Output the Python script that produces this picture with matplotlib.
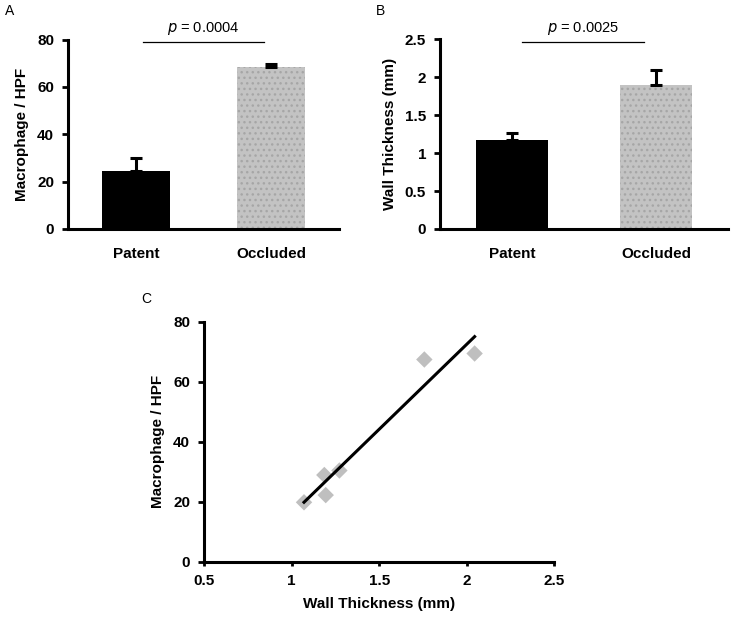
import numpy as np
import matplotlib
matplotlib.use("Agg")
import matplotlib.pyplot as plt

plt.rcParams['font.family'] = ['Liberation Sans', 'DejaVu Sans']

groups = ["Patent", "Occluded"]
macro_mean = [24.5, 68.3]
macro_err = [5.5, 1.4]
wall_mean = [1.17, 1.90]
wall_err = [0.09, 0.20]
p_macro = "0.0004"
p_wall = "0.0025"

scatter_wall = [1.071, 1.187, 1.195, 1.273, 1.758, 2.045]
scatter_macro = [19.8, 28.9, 22.2, 30.4, 67.4, 69.4]

W, H = 733, 617
fig = plt.figure(figsize=(W / 100, H / 100), dpi=100)

def ax_px(l, r, t, b):
    return fig.add_axes([l / W, 1 - b / H, (r - l) / W, (b - t) / H])

bar_colors = ["black", "#c3c3c3"]

def style_axes(ax, xticks=True):
    for s in ["top", "right"]:
        ax.spines[s].set_visible(False)
    for s in ["left", "bottom"]:
        ax.spines[s].set_linewidth(2.2)
    ax.tick_params(axis='y', direction='out', length=4, width=2, pad=6, labelsize=11)
    if xticks:
        ax.tick_params(axis='x', direction='out', length=4, width=2, pad=6, labelsize=11)
    for lab in ax.get_xticklabels() + ax.get_yticklabels():
        lab.set_fontweight('bold')

def bar_panel(ax, means, errs, ylim, yticks, yticklabels, ylabel, pval, sig_x, sig_y, txt_y):
    x = np.arange(len(groups))
    for i in range(len(groups)):
        if i == 0:
            ax.bar(x[i], means[i], width=0.5, color=bar_colors[i], edgecolor='black', linewidth=0, zorder=2)
        else:
            ax.bar(x[i], means[i], width=0.5, color=bar_colors[i], edgecolor='#a6a6a6', hatch='...', linewidth=0, zorder=2)
        ax.errorbar(x[i], means[i], yerr=[[0], [errs[i]]], fmt='none', ecolor='black', elinewidth=2.2, capsize=4, capthick=2.2, zorder=3)
    ax.set_xlim(-0.5, 1.5)
    ax.set_ylim(*ylim)
    ax.set_yticks(yticks)
    ax.set_yticklabels(yticklabels)
    ax.set_xticks(x)
    ax.set_xticklabels(groups)
    style_axes(ax, xticks=False)
    ax.tick_params(axis='x', length=0, pad=13, labelsize=11)
    for lab in ax.get_xticklabels():
        lab.set_fontweight('bold')
    ax.set_ylabel(ylabel, fontsize=11, fontweight='bold', labelpad=6)
    ax.plot(sig_x, [sig_y, sig_y], color='black', linewidth=0.9, clip_on=False)
    ax.text(np.mean(sig_x), txt_y, r"$p$ = " + pval, ha='center', va='center', fontsize=10.5, clip_on=False)

axA = ax_px(68, 339, 39.5, 229)
bar_panel(axA, macro_mean, macro_err, (0, 80), [0, 20, 40, 60, 80], ["0", "20", "40", "60", "80"],
          "Macrophage / HPF", p_macro, [0.05, 0.95], 79.0, 84.5)
axB = ax_px(440, 728, 39.3, 229)
bar_panel(axB, wall_mean, wall_err, (0, 2.5), [0, 0.5, 1, 1.5, 2, 2.5], ["0", "0.5", "1", "1.5", "2", "2.5"],
          "Wall Thickness (mm)", p_wall, [0.07, 0.92], 2.47, 2.64)

fig.text(10 / W, 1 - 11 / H, "A", fontsize=10, ha='center', va='center')
fig.text(380 / W, 1 - 11 / H, "B", fontsize=10, ha='center', va='center')
fig.text(146 / W, 1 - 299 / H, "C", fontsize=10, ha='center', va='center')

axC = ax_px(204, 554.3, 321.7, 561.7)
axC.scatter(scatter_wall, scatter_macro, marker='D', s=70, color='#bfbfbf', edgecolor='none', zorder=2)
coef = np.polyfit(scatter_wall, scatter_macro, 1)
xs = np.array([min(scatter_wall), max(scatter_wall)])
axC.plot(xs, np.polyval(coef, xs), color='black', linewidth=2.2, zorder=3)
axC.set_xlim(0.5, 2.5)
axC.set_ylim(0, 80)
axC.set_xticks([0.5, 1, 1.5, 2, 2.5])
axC.set_xticklabels(["0.5", "1", "1.5", "2", "2.5"])
axC.set_yticks([0, 20, 40, 60, 80])
axC.set_yticklabels(["0", "20", "40", "60", "80"])
style_axes(axC)
axC.tick_params(axis='x', length=3)
axC.set_xlabel("Wall Thickness (mm)", fontsize=11, fontweight='bold', labelpad=6)
axC.set_ylabel("Macrophage / HPF", fontsize=11, fontweight='bold', labelpad=6)

fig.savefig("out.png", dpi=100)
